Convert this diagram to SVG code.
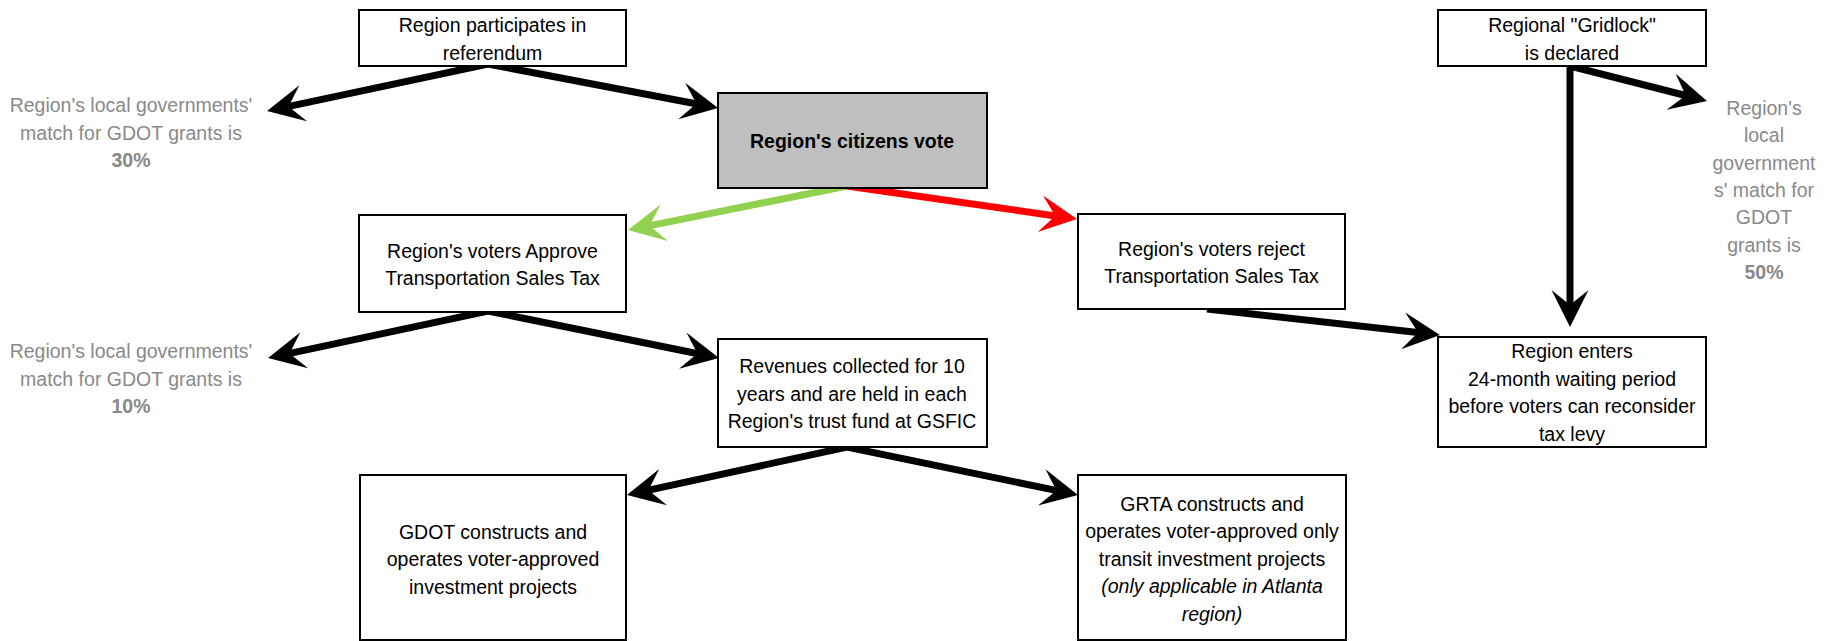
<svg xmlns="http://www.w3.org/2000/svg" width="1844" height="641" viewBox="0 0 1844 641">
<style>
.box{fill:#fff;stroke:#000;stroke-width:2}
.gbox{fill:#bfbfbf;stroke:#000;stroke-width:2}
.t{font-family:"Liberation Sans",Arial,sans-serif;font-size:19.5px;fill:#000;text-anchor:middle}
.g{font-family:"Liberation Sans",Arial,sans-serif;font-size:19.5px;fill:#898989;text-anchor:middle}
.b{font-weight:bold}
.i{font-style:italic}
.c{fill:none;stroke-width:7;stroke-linejoin:miter;stroke-miterlimit:6;stroke-linecap:butt}
</style>
<defs>
<marker id="ak" markerUnits="userSpaceOnUse" viewBox="0 0 40 40" markerWidth="40" markerHeight="40" refX="19" refY="20" orient="auto-start-reverse"><path d="M39,20 L2,1.5 L17,20 L2,38.5 Z" fill="#000"/></marker>
<marker id="ag" markerUnits="userSpaceOnUse" viewBox="0 0 40 40" markerWidth="40" markerHeight="40" refX="19" refY="20" orient="auto-start-reverse"><path d="M39,20 L2,1.5 L17,20 L2,38.5 Z" fill="#92d050"/></marker>
<marker id="ar" markerUnits="userSpaceOnUse" viewBox="0 0 40 40" markerWidth="40" markerHeight="40" refX="19" refY="20" orient="auto-start-reverse"><path d="M39,20 L2,1.5 L17,20 L2,38.5 Z" fill="#ff0000"/></marker>
</defs>

<g id="connectors">
<polyline class="c" stroke="#000" points="286.6,106.8 488,64 698.4,104.2" marker-start="url(#ak)" marker-end="url(#ak)"/>
<line class="c" stroke="#92d050" x1="847" y1="186" x2="647.6" y2="226.1" marker-end="url(#ag)"/>
<line class="c" stroke="#ff0000" x1="847" y1="186" x2="1057.2" y2="216.2" marker-end="url(#ar)"/>
<polyline class="c" stroke="#000" points="287.6,353.8 488,311 699.4,354" marker-start="url(#ak)" marker-end="url(#ak)"/>
<polyline class="c" stroke="#000" points="646.5,490.7 847,447 1058.4,490.9" marker-start="url(#ak)" marker-end="url(#ak)"/>
<line class="c" stroke="#000" x1="1207" y1="309" x2="1420.1" y2="332.8" marker-end="url(#ak)"/>
<polyline class="c" stroke="#000" points="1570,307 1570,66 1687.6,96" marker-start="url(#ak)" marker-end="url(#ak)"/>
</g>

<g id="referendum">
<rect class="box" x="359" y="10" width="267" height="56"/>
<text class="t" x="492.5" y="32">Region participates in</text>
<text class="t" x="492.5" y="59.5">referendum</text>
</g>

<g id="vote">
<rect class="gbox" x="718" y="93" width="269" height="95"/>
<text class="t b" x="852" y="148">Region's citizens vote</text>
</g>

<g id="approve">
<rect class="box" x="359" y="215" width="267" height="97"/>
<text class="t" x="492.5" y="257.5">Region's voters Approve</text>
<text class="t" x="492.5" y="285">Transportation Sales Tax</text>
</g>

<g id="reject">
<rect class="box" x="1078" y="214" width="267" height="95"/>
<text class="t" x="1211.5" y="255.5">Region's voters reject</text>
<text class="t" x="1211.5" y="283">Transportation Sales Tax</text>
</g>

<g id="revenues">
<rect class="box" x="718" y="339" width="269" height="108"/>
<text class="t" x="852" y="373">Revenues collected for 10</text>
<text class="t" x="852" y="400.5">years and are held in each</text>
<text class="t" x="852" y="428">Region's trust fund at GSFIC</text>
</g>

<g id="gridlock">
<rect class="box" x="1438" y="10" width="268" height="56"/>
<text class="t" x="1572" y="32">Regional "Gridlock"</text>
<text class="t" x="1572" y="59.5">is declared</text>
</g>

<g id="waiting">
<rect class="box" x="1438" y="337" width="268" height="110"/>
<text class="t" x="1572" y="358">Region enters</text>
<text class="t" x="1572" y="385.5">24-month waiting period</text>
<text class="t" x="1572" y="413">before voters can reconsider</text>
<text class="t" x="1572" y="440.5">tax levy</text>
</g>

<g id="gdot">
<rect class="box" x="360" y="475" width="266" height="165"/>
<text class="t" x="493" y="538.5">GDOT constructs and</text>
<text class="t" x="493" y="566">operates voter-approved</text>
<text class="t" x="493" y="593.5">investment projects</text>
</g>

<g id="grta">
<rect class="box" x="1078" y="475" width="268" height="165"/>
<text class="t" x="1212" y="510.5">GRTA constructs and</text>
<text class="t" x="1212" y="538">operates voter-approved only</text>
<text class="t" x="1212" y="565.5">transit investment projects</text>
<text class="t i" x="1212" y="593">(only applicable in Atlanta</text>
<text class="t i" x="1212" y="620.5">region)</text>
</g>

<g id="match30">
<text class="g" x="131" y="112">Region's local governments'</text>
<text class="g" x="131" y="139.5">match for GDOT grants is</text>
<text class="g b" x="131" y="167">30%</text>
</g>

<g id="match10">
<text class="g" x="131" y="358">Region's local governments'</text>
<text class="g" x="131" y="385.5">match for GDOT grants is</text>
<text class="g b" x="131" y="413">10%</text>
</g>

<g id="match50">
<text class="g" x="1764" y="115">Region's</text>
<text class="g" x="1764" y="142.3">local</text>
<text class="g" x="1764" y="169.6">government</text>
<text class="g" x="1764" y="197">s' match for</text>
<text class="g" x="1764" y="224.3">GDOT</text>
<text class="g" x="1764" y="251.6">grants is</text>
<text class="g b" x="1764" y="279">50%</text>
</g>
</svg>
